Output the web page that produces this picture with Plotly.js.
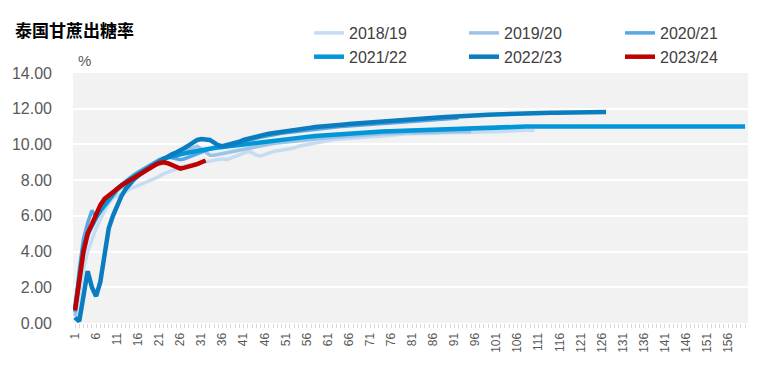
<!DOCTYPE html>
<html><head><meta charset="utf-8">
<script src="https://cdn.plot.ly/plotly-3.0.1.min.js"></script>
<style>html,body{margin:0;padding:0;background:#fff}#chart{width:766px;height:370px}</style>
</head><body><div id="chart"></div>
<script>
// Season names
const seasonNames = ["2018/19", "2019/20", "2020/21", "2021/22", "2022/23", "2023/24"];

// Sugar recovery rate (%) by day index 1..N
const s1819 = [
  0.20, 1.50, 3.00, 4.00, 4.70, 5.30, 5.80, 6.30, 6.70, 7.00,
  7.10, 7.20, 7.35, 7.50, 7.60, 7.70, 7.80, 7.95, 8.05, 8.15,
  8.20, 8.35, 8.45, 8.55, 8.60, 8.70, 8.80, 8.85, 8.90, 8.95,
  9.00, 9.05, 9.10, 9.10, 9.15, 9.20, 9.15, 9.25, 9.35, 9.45,
  9.55, 9.60, 9.55, 9.40, 9.35, 9.45, 9.55, 9.60, 9.65, 9.70,
  9.72, 9.75, 9.80, 9.90, 9.95, 10.00, 10.05, 10.10, 10.12, 10.15,
  10.20, 10.25, 10.30, 10.30, 10.32, 10.35, 10.38, 10.40, 10.40, 10.40,
  10.42, 10.45, 10.45, 10.48, 10.50, 10.52, 10.55, 10.55, 10.58, 10.60,
  10.60, 10.60, 10.62, 10.62, 10.63, 10.63, 10.63, 10.65, 10.65, 10.65,
  10.65, 10.67, 10.67, 10.68, 10.68, 10.68, 10.70, 10.70, 10.70, 10.70,
  10.70, 10.72, 10.72, 10.75, 10.75, 10.78, 10.78, 10.80, 10.80, 10.80
];
const s1920 = [
  0.40, 2.20, 3.80, 4.80, 5.50, 5.90, 6.20, 6.50, 6.80, 7.10,
  7.40, 7.60, 7.80, 7.95, 8.10, 8.25, 8.40, 8.55, 8.70, 8.85,
  9.00, 9.10, 9.25, 9.35, 9.45, 9.55, 9.65, 9.75, 9.85, 9.90,
  9.75, 9.55, 9.40, 9.40, 9.45, 9.50, 9.55, 9.60, 9.65, 9.70,
  9.75, 9.80, 9.85, 9.90, 9.95, 10.00, 10.02, 10.05, 10.08, 10.10,
  10.12, 10.15, 10.18, 10.20, 10.22, 10.25, 10.27, 10.30, 10.32, 10.35,
  10.38, 10.40, 10.42, 10.45, 10.45, 10.47, 10.50, 10.50, 10.52, 10.55,
  10.55, 10.57, 10.58, 10.60, 10.60, 10.62, 10.62, 10.63, 10.63, 10.65,
  10.65, 10.65, 10.67, 10.67, 10.68, 10.68, 10.68, 10.70, 10.70, 10.70,
  10.70, 10.70, 10.72, 10.72, 10.72
];
const s2021 = [
  0.60, 3.00, 4.70, 5.60, 6.30, 5.90, 6.30, 6.70, 7.00, 7.30,
  7.55, 7.75, 7.95, 8.15, 8.30, 8.45, 8.60, 8.75, 8.90, 9.05,
  9.15, 9.25, 9.30, 9.25, 9.20, 9.15, 9.20, 9.30, 9.40, 9.50,
  9.60, 9.70, 9.75, 9.80, 9.85, 9.90, 9.95, 10.00, 10.05, 10.10,
  10.15, 10.22, 10.28, 10.34, 10.40, 10.45, 10.50, 10.54, 10.58, 10.62,
  10.65, 10.68, 10.72, 10.75, 10.78, 10.81, 10.84, 10.87, 10.90, 10.92,
  10.94, 10.96, 10.98, 11.00, 11.02, 11.04, 11.06, 11.08, 11.10, 11.11,
  11.13, 11.15, 11.16, 11.18, 11.19, 11.21, 11.22, 11.24, 11.25, 11.27,
  11.28, 11.30, 11.32, 11.34, 11.36, 11.38, 11.40, 11.42, 11.43, 11.45,
  11.46, 11.48
];
const s2122 = [
  0.80, 2.60, 4.20, 5.00, 5.50, 5.90, 6.30, 6.60, 6.90, 7.20,
  7.50, 7.70, 7.90, 8.05, 8.20, 8.35, 8.50, 8.65, 8.80, 8.95,
  9.10, 9.20, 9.28, 9.35, 9.40, 9.45, 9.50, 9.55, 9.60, 9.65,
  9.70, 9.73, 9.76, 9.80, 9.83, 9.86, 9.90, 9.93, 9.96, 10.00,
  10.03, 10.06, 10.09, 10.12, 10.15, 10.18, 10.20, 10.23, 10.26, 10.28,
  10.31, 10.34, 10.36, 10.39, 10.41, 10.43, 10.45, 10.47, 10.49, 10.51,
  10.53, 10.55, 10.57, 10.58, 10.60, 10.62, 10.63, 10.65, 10.66, 10.68,
  10.69, 10.70, 10.71, 10.72, 10.73, 10.74, 10.75, 10.76, 10.77, 10.78,
  10.79, 10.80, 10.80, 10.81, 10.82, 10.83, 10.84, 10.85, 10.85, 10.86,
  10.87, 10.88, 10.88, 10.89, 10.90, 10.90, 10.91, 10.92, 10.92, 10.93,
  10.94, 10.95, 10.97, 11.00, 11.00, 11.00, 11.00, 11.00, 11.00, 11.00,
  11.00, 11.00, 11.00, 11.00, 11.00, 11.00, 11.00, 11.00, 11.00, 11.00,
  11.00, 11.00, 11.00, 11.00, 11.00, 11.00, 11.00, 11.00, 11.00, 11.00,
  11.00, 11.00, 11.00, 11.00, 11.00, 11.00, 11.00, 11.00, 11.00, 11.00,
  11.00, 11.00, 11.00, 11.00, 11.00, 11.00, 11.00, 11.00, 11.00, 11.00,
  11.00, 11.00, 11.00, 11.00, 11.00, 11.00, 11.00, 11.00, 11.00, 11.00
];
const s2223 = [
  0.30, 0.10, 1.50, 2.90, 2.00, 1.50, 2.30, 4.00, 5.30, 6.00,
  6.60, 7.10, 7.50, 7.80, 8.05, 8.25, 8.45, 8.60, 8.75, 8.90,
  9.05, 9.20, 9.30, 9.45, 9.55, 9.65, 9.80, 9.95, 10.10, 10.25,
  10.30, 10.30, 10.25, 10.10, 9.95, 9.90, 9.95, 10.05, 10.10, 10.15,
  10.25, 10.32, 10.38, 10.44, 10.50, 10.55, 10.60, 10.64, 10.68, 10.72,
  10.75, 10.78, 10.82, 10.85, 10.88, 10.91, 10.94, 10.97, 11.00, 11.02,
  11.04, 11.06, 11.08, 11.10, 11.12, 11.14, 11.16, 11.18, 11.20, 11.21,
  11.23, 11.25, 11.26, 11.28, 11.29, 11.31, 11.32, 11.34, 11.35, 11.37,
  11.38, 11.40, 11.42, 11.44, 11.46, 11.48, 11.50, 11.52, 11.53, 11.55,
  11.56, 11.58, 11.59, 11.60, 11.62, 11.63, 11.64, 11.65, 11.66, 11.67,
  11.68, 11.70, 11.72, 11.74, 11.75, 11.76, 11.77, 11.78, 11.78, 11.78,
  11.78, 11.78, 11.78, 11.78, 11.78, 11.78, 11.78, 11.78, 11.78, 11.78,
  11.78, 11.78, 11.78, 11.78, 11.79, 11.80, 11.82
];
const s2324 = [
  0.70, 2.50, 4.00, 5.00, 5.50, 6.10, 6.60, 6.95, 7.15, 7.35,
  7.55, 7.70, 7.85, 8.00, 8.15, 8.30, 8.40, 8.55, 8.70, 8.85,
  8.95, 9.00, 8.95, 8.85, 8.70, 8.65, 8.70, 8.75, 8.85, 8.90,
  9.00, 9.10
];

// x-axis tick labels (every 5th day)
const xTickLabels = ["1","6","11","16","21","26","31","36","41","46","51","56","61","66","71","76","81","86","91","96","101","106","111","116","121","126","131","136","141","146","151","156"];
// y-axis tick values
const yTickVals = [0, 2, 4, 6, 8, 10, 12, 14];

const seriesValues = [s1819, s1920, s2021, s2122, s2223, s2324];
const colors = ["#c5dcf3", "#9dc3e6", "#58a6e2", "#0096d8", "#0a7cc0", "#c00000"];
const widths = [3.5, 3.5, 3.5, 4.5, 4.5, 4.5];
const legendIds = ["legend", "legend2", "legend3", "legend", "legend2", "legend3"];

const traces = seriesValues.map((vals, i) => ({
  type: "scatter",
  mode: "lines",
  name: seasonNames[i],
  x: vals.map((v, k) => k + 1),
  y: vals,
  line: {color: colors[i], width: widths[i]},
  legend: legendIds[i],
  hoverinfo: "skip"
}));

// plot area in px: x 73..748, y 73..323
const legendFont = {family: "Liberation Sans, Arial, sans-serif", size: 16, color: "#404040"};
function mkLegend(xpx) {
  return {
    x: (xpx - 73) / 675, y: (323 - 16) / 250, xanchor: "left", yanchor: "top",
    orientation: "v", font: legendFont, bgcolor: "rgba(0,0,0,0)",
    tracegroupgap: 0, itemwidth: 30, borderwidth: 0
  };
}

const layout = {
  width: 766, height: 370,
  paper_bgcolor: "#ffffff",
  plot_bgcolor: "#f2f2f2",
  margin: {l: 73, r: 18, t: 73, b: 47, pad: 0},
  showlegend: true,
  title: {
    text: "<b>泰国甘蔗出糖率</b>",
    font: {family: "Noto Sans CJK SC, sans-serif", size: 17, color: "#000000"},
    xref: "container", yref: "container",
    x: 15 / 766, xanchor: "left",
    y: 1 - 31 / 370, yanchor: "middle"
  },
  legend: mkLegend(309),
  legend2: mkLegend(464),
  legend3: mkLegend(620),
  xaxis: {
    range: [0.52, 160.7],
    tickmode: "array",
    tickvals: xTickLabels.map(Number),
    ticktext: xTickLabels,
    tickangle: -90,
    tickfont: {family: "Liberation Sans, Arial, sans-serif", size: 12, color: "#595959"},
    ticks: "outside", ticklen: 4, tickcolor: "#d9d9d9", tickwidth: 1,
    minor: {tickmode: "linear", tick0: 1, dtick: 1, ticks: "outside", ticklen: 4, tickcolor: "#d9d9d9", tickwidth: 1, showgrid: false},
    showgrid: false, zeroline: false, showline: false, automargin: false
  },
  yaxis: {
    range: [0, 14],
    tickmode: "array",
    tickvals: yTickVals,
    ticktext: yTickVals.map(v => v.toFixed(2)),
    tickfont: {family: "Liberation Sans, Arial, sans-serif", size: 16, color: "#595959"},
    ticks: "", ticklabelstandoff: 20,
    showgrid: true, gridcolor: "#ffffff", gridwidth: 2,
    zeroline: false, showline: false, automargin: false
  },
  annotations: [{
    text: "%", xref: "paper", yref: "paper",
    x: 11 / 675, y: 1, yshift: 13, xanchor: "center", yanchor: "middle",
    showarrow: false,
    font: {family: "Liberation Sans, Arial, sans-serif", size: 15, color: "#595959"}
  }]
};

Plotly.newPlot("chart", traces, layout, {displayModeBar: false, staticPlot: true});
</script>
</body></html>
